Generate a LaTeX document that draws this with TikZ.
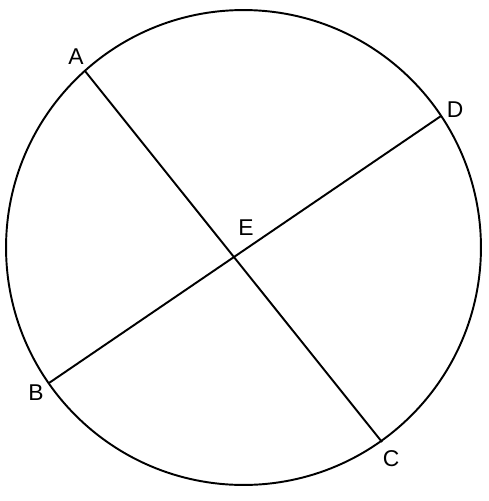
\documentclass[tikz,border=0pt]{standalone}
\usepackage{fontspec}
\setmainfont{Liberation Sans}
\begin{document}
\begin{tikzpicture}[x=0.02cm, y=-0.02cm, line width=1.1pt,
    lbl/.style={font=\fontsize{13}{15}\selectfont, inner sep=0pt}]
    \useasboundingbox (0, 0) rectangle (489, 501);
    \coordinate (o) at (243.5, 247.5);
    \draw (o) circle [radius=4.75cm];
    \coordinate (a) at (85, 71);
    \coordinate (b) at (49, 383);
    \coordinate (c) at (382, 442);
    \coordinate (d) at (441, 116);
    \coordinate (e) at (intersection of a--c and b--d);
    \draw (76, 57) node (la) [lbl] {A}
          (36, 393) node (lb) [lbl] {B}
          (391, 459) node (lc) [lbl] {C}
          (455, 110) node (ld) [lbl] {D}
          (246, 228) node (le) [lbl] {E};
    \draw (a) -- (c)
          (b) -- (d);
\end{tikzpicture}
\end{document}
